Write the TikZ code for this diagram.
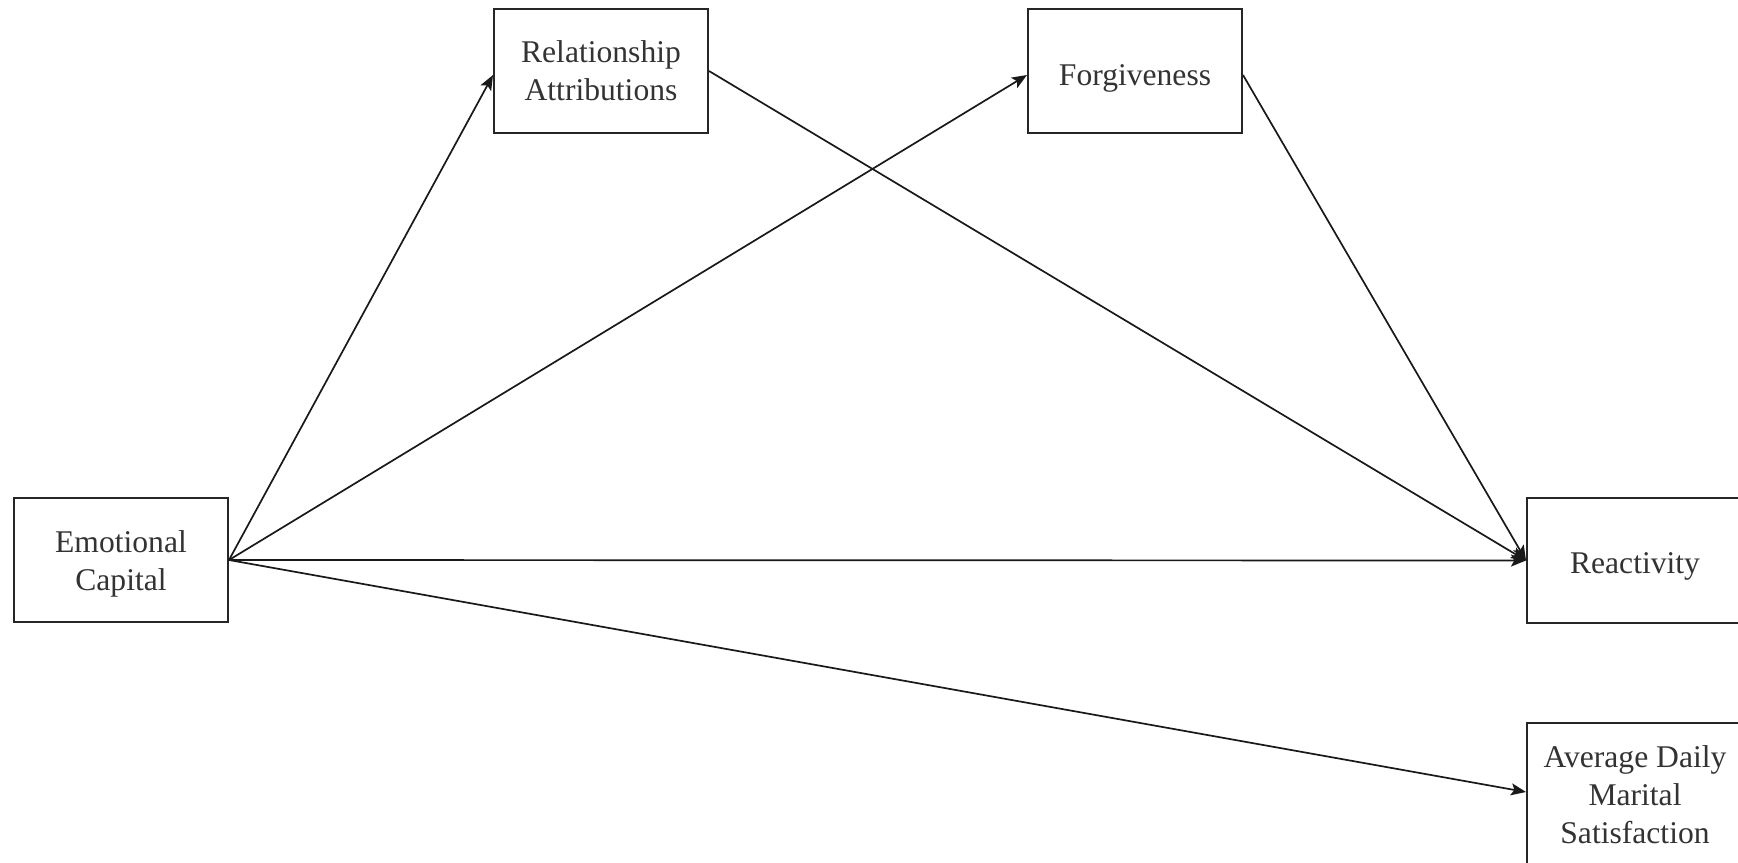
\documentclass[tikz,border=0pt]{standalone}
\usepackage{fontspec}
\setmainfont{Liberation Serif}
\usetikzlibrary{arrows.meta}
\newcommand{\lift}[1]{\rule{0pt}{#1}}
\begin{document}
\begin{tikzpicture}[x=0.5pt,y=-0.5pt,
  varbox/.style={draw=black!85, line width=1pt, fill=white, minimum width=107pt, minimum height=62pt, align=center, inner sep=2pt, text=black!80, font=\fontsize{15.8}{19}\selectfont},
  path/.style={draw=black!90, line width=0.85pt, -{Stealth[length=7.5pt,width=6pt,inset=1.6pt]}}]
\clip (0,0) rectangle (1738,862);
\fill[white] (0,0) rectangle (1738,862);
\node[varbox] (ec) at (121,560) {\lift{15pt}Emotional\\Capital};
\node[varbox] (ra) at (601,71) {Relationship\\Attributions};
\node[varbox] (fg) at (1135,71) {\lift{18pt}Forgiveness};
\node[varbox, minimum width=108pt, minimum height=62.5pt] (re) at (1635,560.5) {\lift{16pt}Reactivity};
\node[varbox, minimum width=108pt, minimum height=72pt] (av) at (1635,795) {Average Daily\\Marital\\Satisfaction};
\draw[path] (ec.east) -- ([yshift=-2pt]ra.west);
\draw[path] (ec.east) -- ([yshift=-2pt]fg.west);
\draw[path] (ec.east) -- (re.west);
\draw[path] (ec.east) -- ([yshift=1.5pt]av.west);
\draw[path] (ra.east) -- (re.west);
\draw[path] ([yshift=-2pt]fg.east) -- (re.west);
\end{tikzpicture}
\end{document}
